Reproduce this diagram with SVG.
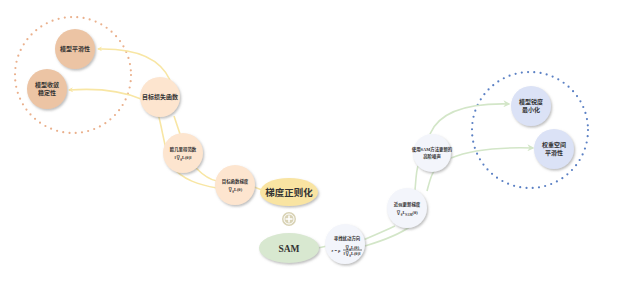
<svg xmlns="http://www.w3.org/2000/svg" width="635" height="281" viewBox="0 0 635 281">
  <style>
    .t { font-family: "Liberation Serif", "Noto Sans CJK SC", serif; fill: #333; font-weight: bold; text-anchor: middle; }
    .s { font-size: 6px; }
    .xs { font-size: 4.4px; }
    .big { font-size: 9.5px; }
    .yl { fill: none; stroke: #f8e6a4; stroke-width: 1.6; }
    .gl { fill: none; stroke: #d3e6c8; stroke-width: 1.6; }
    .peach { fill: #ecc4a4; }
    .cream { fill: #fde5cf; }
    .pale { fill: #f3f5fb; }
    .blue { fill: #dbe2f6; }
  </style>
  <defs>
    <filter id="shadow" x="-30%" y="-30%" width="170%" height="170%">
      <feDropShadow dx="1.2" dy="1.6" stdDeviation="0.9" flood-color="#888" flood-opacity="0.55"/>
    </filter>
    <marker id="arrY" viewBox="0 0 10 10" refX="8" refY="5" markerWidth="5" markerHeight="5" orient="auto" markerUnits="userSpaceOnUse">
      <path d="M0,0 L10,5 L0,10 L3,5 Z" fill="#f8e6a4"/>
    </marker>
    <marker id="arrG" viewBox="0 0 10 10" refX="8" refY="5" markerWidth="7" markerHeight="7" orient="auto" markerUnits="userSpaceOnUse">
      <path d="M0,0 L10,5 L0,10 L3,5 Z" fill="#d3e6c8"/>
    </marker>
  </defs>

  <!-- grouping rings -->
  <circle cx="73" cy="75" r="58" fill="none" stroke="#eab08c" stroke-width="2.2" stroke-dasharray="0 6.3" stroke-linecap="round"/>
  <circle cx="530" cy="130" r="58" fill="none" stroke="#5b80c4" stroke-width="2.2" stroke-dasharray="0 6.3" stroke-linecap="round"/>

  <!-- connectors -->
  <g id="connectors">
    <path class="yl" d="M170 80 C160 58 135 48 98 49" marker-end="url(#arrY)"/>
    <path class="yl" d="M141 99 C120 90 96 88 69 90" marker-end="url(#arrY)"/>
    <path class="yl" d="M174 116 C176 122 178 128 180 134"/>
    <path class="yl" d="M158 114 C163 130 164 150 172 166 C182 180 200 185 217 188"/>
    <path class="yl" d="M196 168 C203 175 210 180 217 181"/>
    <path class="yl" d="M254 187 L262 190"/>
    <path class="gl" d="M318 248 L327 246"/>
    <path class="gl" d="M363 240 C375 235 386 230 395 226"/>
    <path class="gl" d="M365 246 C385 240 400 234 411 226"/>
    <path class="gl" d="M415 190 C416 180 416 172 418 166"/>
    <path class="gl" d="M427 191 C430 180 432 170 440 165"/>
    <path class="gl" d="M430 134 C440 110 470 103 509 104" marker-end="url(#arrG)"/>
    <path class="gl" d="M451 158 C470 150 500 147 533 148" marker-end="url(#arrG)"/>
  </g>

  <!-- left cluster -->
  <g id="model-smoothness">
    <circle cx="75" cy="49" r="20" class="peach" filter="url(#shadow)"/>
    <text class="t s" x="75" y="51">模型平滑性</text>
  </g>
  <g id="model-convergence">
    <circle cx="47" cy="89" r="20" class="peach" filter="url(#shadow)"/>
    <text class="t s" x="47" y="87">模型收敛</text>
    <text class="t s" x="47" y="95">稳定性</text>
  </g>
  <g id="target-loss">
    <circle cx="160" cy="97" r="20" class="cream" filter="url(#shadow)"/>
    <text class="t s" x="160" y="99">目标损失函数</text>
  </g>
  <g id="euclid-norm">
    <circle cx="183" cy="153" r="20" class="cream" filter="url(#shadow)"/>
    <text class="t xs" x="183" y="151">欧几里得范数</text>
    <text class="t xs" x="183" y="159">‖∇<tspan baseline-shift="sub" font-size="3.2">θ</tspan>L(θ)‖</text>
  </g>
  <g id="target-grad">
    <circle cx="235" cy="185" r="20" class="cream" filter="url(#shadow)"/>
    <text class="t xs" x="235" y="183">目标函数梯度</text>
    <text class="t xs" x="235" y="191">∇<tspan baseline-shift="sub" font-size="3.2">θ</tspan>L(θ)</text>
  </g>
  <g id="grad-reg">
    <ellipse cx="289" cy="192" rx="29" ry="14" fill="#f9e4a2" filter="url(#shadow)"/>
    <text class="t big" x="289" y="195.5">梯度正则化</text>
  </g>
  <g id="plus">
    <circle cx="289" cy="219" r="7" fill="#d9d3b6"/>
    <circle cx="289" cy="219" r="5" fill="none" stroke="#fff" stroke-width="1"/>
    <path d="M289 215.5 V222.5 M285.5 219 H292.5" stroke="#fff" stroke-width="1.5"/>
  </g>
  <g id="sam">
    <ellipse cx="289" cy="248" rx="30" ry="15" fill="#d8e8d0" filter="url(#shadow)"/>
    <text class="t big" x="289" y="251.5">SAM</text>
  </g>

  <!-- right cluster -->
  <g id="perturb-dir">
    <circle cx="345" cy="244" r="20" class="pale" filter="url(#shadow)"/>
    <text class="t xs" x="347" y="240">寻找扰动方向</text>
    <text class="t xs" x="336" y="251.5">ε = ρ</text>
    <text class="t xs" x="352" y="248.5">∇<tspan baseline-shift="sub" font-size="3.2">θ</tspan>L(θ)</text>
    <line x1="343" y1="250" x2="362" y2="250" stroke="#222" stroke-width="0.6"/>
    <text class="t xs" x="352" y="255">‖∇<tspan baseline-shift="sub" font-size="3.2">θ</tspan>L(θ)‖</text>
  </g>
  <g id="approx-grad">
    <circle cx="407" cy="208" r="20" class="pale" filter="url(#shadow)"/>
    <text class="t xs" x="407" y="206">近似更新梯度</text>
    <text class="t xs" x="407" y="214">∇<tspan baseline-shift="sub" font-size="3.2">θ</tspan>L<tspan baseline-shift="sub" font-size="3.2">SAM</tspan>(θ)</text>
  </g>
  <g id="sam-noise">
    <circle cx="432" cy="153" r="19" class="pale" filter="url(#shadow)"/>
    <text class="t xs" x="432" y="151">使用SAM方法更新的</text>
    <text class="t xs" x="432" y="158">高阶噪声</text>
  </g>
  <g id="sharpness-min">
    <circle cx="531" cy="106" r="20" class="blue" filter="url(#shadow)"/>
    <text class="t s" x="531" y="104">模型锐度</text>
    <text class="t s" x="531" y="112">最小化</text>
  </g>
  <g id="weight-smooth">
    <circle cx="554" cy="149" r="20" class="blue" filter="url(#shadow)"/>
    <text class="t s" x="554" y="147">权重空间</text>
    <text class="t s" x="554" y="155">平滑性</text>
  </g>
</svg>
